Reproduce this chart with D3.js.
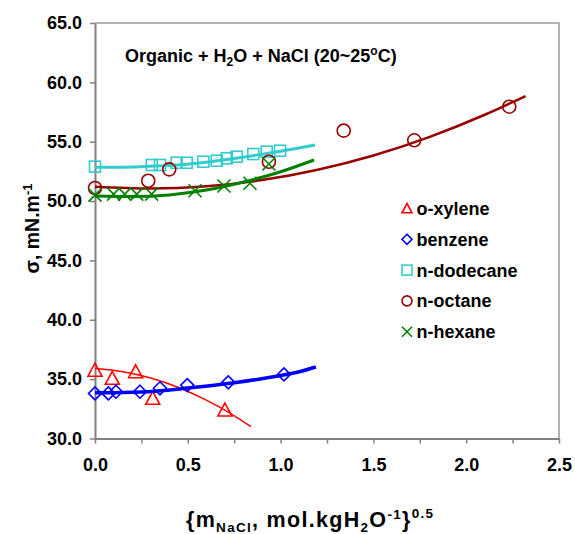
<!DOCTYPE html>
<html><head><meta charset="utf-8">
<script src="https://cdn.jsdelivr.net/npm/d3@7"></script>
<style>
html,body{margin:0;padding:0;background:#fff;}
svg text{font-family:"Liberation Sans",Arial,sans-serif;font-weight:bold;fill:#000;}
</style></head>
<body><svg id="chart" width="575" height="534"></svg>
<script>
// ---- data ----
const xTicks = [0, 0.25, 0.5, 0.75, 1.0, 1.25, 1.5, 1.75, 2.0, 2.25, 2.5];
const yTicks = [30, 35, 40, 45, 50, 55, 60, 65];

const xyleneX = [0.0, 0.093, 0.219, 0.311, 0.70];
const xyleneY = [35.75, 35.07, 35.62, 33.38, 32.40];
const benzeneX = [0.0, 0.072, 0.113, 0.242, 0.35, 0.497, 0.718, 1.018];
const benzeneY = [33.80, 33.80, 33.94, 33.94, 34.23, 34.50, 34.73, 35.40];
const dodecaneX = [0.0, 0.306, 0.35, 0.44, 0.494, 0.584, 0.656, 0.71, 0.763, 0.853, 0.925, 0.997];
const dodecaneY = [52.90, 53.04, 53.04, 53.23, 53.23, 53.32, 53.40, 53.60, 53.74, 53.96, 54.16, 54.24];
const octaneX = [0.0, 0.287, 0.40, 0.937, 1.34, 1.72, 2.232];
const octaneY = [51.10, 51.71, 52.67, 53.31, 55.93, 55.12, 57.95];
const hexaneX = [0.0, 0.10, 0.16, 0.225, 0.305, 0.539, 0.695, 0.835, 0.937];
const hexaneY = [50.50, 50.59, 50.59, 50.59, 50.59, 50.87, 51.27, 51.50, 53.12];

// trend curves
const xyleneFitX = [0, 0.15, 0.3, 0.45, 0.6, 0.72, 0.84];
const xyleneFitY = [35.90, 35.63, 35.10, 34.30, 33.23, 32.20, 31.00];
const benzeneFitX = [0, 0.25, 0.5, 0.75, 1.0, 1.1, 1.19];
const benzeneFitY = [33.85, 33.92, 34.25, 34.70, 35.30, 35.62, 36.02];
const dodecaneFitX = [0, 0.25, 0.46, 0.73, 1.0, 1.185];
const dodecaneFitY = [52.84, 52.90, 53.05, 53.55, 54.20, 54.72];
const octaneFitX = [0, 0.3, 0.6, 0.9, 1.2, 1.5, 1.8, 2.1, 2.32];
const octaneFitY = [51.20, 51.05, 51.24, 51.77, 52.64, 53.84, 55.39, 57.27, 58.85];
const hexaneFitX = [0, 0.2, 0.4, 0.6, 0.8, 1.0, 1.18];
const hexaneFitY = [50.43, 50.38, 50.52, 50.93, 51.60, 52.47, 53.46];

const seriesNames = ["o-xylene", "benzene", "n-dodecane", "n-octane", "n-hexane"];
const seriesColors = ["#ff0000", "#0000ff", "#33cccc", "#990000", "#008000"];
const markerTypes = ["triangle", "diamond", "square", "circle", "cross"];
const lineWidths = [1.5, 3.5, 3, 2.5, 3];

const svg = d3.select("#chart");
const x = d3.scaleLinear().domain([0, 2.5]).range([95, 559]);
const y = d3.scaleLinear().domain([30, 65]).range([438.5, 23]);

const axisColor = "#808080";

// plot box (top/right)
svg.append("path")
  .attr("d", `M${x(0)},${y(65)}H${x(2.5)}V${y(30)}`)
  .attr("fill", "none").attr("stroke", "#999").attr("stroke-width", 1.5);

// axes
const gx = svg.append("g").attr("transform", `translate(0,${y(30)})`)
  .call(d3.axisBottom(x).tickValues(xTicks).tickSize(5).tickSizeOuter(0)
    .tickFormat(d => (Math.round(d * 100) % 50 === 0) ? d.toFixed(1) : ""));
gx.select(".domain").attr("stroke", axisColor).attr("stroke-width", 2);
gx.selectAll(".tick line").attr("stroke", axisColor).attr("stroke-width", 1.5);
gx.selectAll(".tick text").attr("dy", null).attr("y", 32.5).style("font-size", "18px");

const gy = svg.append("g").attr("transform", `translate(${x(0)},0)`)
  .call(d3.axisLeft(y).tickValues(yTicks).tickSize(5).tickSizeOuter(0).tickPadding(8)
    .tickFormat(d3.format(".1f")));
gy.select(".domain").attr("stroke", axisColor).attr("stroke-width", 2);
gy.selectAll(".tick line").attr("stroke", axisColor).attr("stroke-width", 1.5);
gy.selectAll(".tick text").style("font-size", "18px");

// marker generator
function marker(sel, type, cx, cy, s, color) {
  const h = s / 2;
  let el;
  if (type === "circle") {
    el = sel.append("circle").attr("cx", cx).attr("cy", cy).attr("r", h);
  } else if (type === "square") {
    el = sel.append("rect").attr("x", cx - h).attr("y", cy - h).attr("width", s).attr("height", s);
  } else if (type === "diamond") {
    el = sel.append("path").attr("d", `M${cx},${cy - h}L${cx + h},${cy}L${cx},${cy + h}L${cx - h},${cy}Z`);
  } else if (type === "triangle") {
    el = sel.append("path").attr("d", `M${cx},${cy - h}L${cx + h},${cy + h * 0.85}L${cx - h},${cy + h * 0.85}Z`);
  } else {
    el = sel.append("path").attr("d", `M${cx - h},${cy - h}L${cx + h},${cy + h}M${cx + h},${cy - h}L${cx - h},${cy + h}`);
  }
  el.attr("fill", "none").attr("stroke", color).attr("stroke-width", 1.6);
}

const allX = [xyleneX, benzeneX, dodecaneX, octaneX, hexaneX];
const allY = [xyleneY, benzeneY, dodecaneY, octaneY, hexaneY];
const fitX = [xyleneFitX, benzeneFitX, dodecaneFitX, octaneFitX, hexaneFitX];
const fitY = [xyleneFitY, benzeneFitY, dodecaneFitY, octaneFitY, hexaneFitY];
const markerSizes = [14, 13, 11, 13, 13];

const line = d3.line().x(d => x(d[0])).y(d => y(d[1])).curve(d3.curveMonotoneX);

for (let i = 0; i < 5; i++) {
  const g = svg.append("g");
  const pts = allX[i].map((v, j) => [v, allY[i][j]]);
  pts.forEach(p => marker(g, markerTypes[i], x(p[0]), y(p[1]), markerSizes[i], seriesColors[i]));
  const fit = fitX[i].map((v, j) => [v, fitY[i][j]]);
  g.append("path").attr("d", line(fit)).attr("fill", "none")
    .attr("stroke", seriesColors[i]).attr("stroke-width", lineWidths[i]).attr("stroke-linecap", "butt");
}

// legend
const lg = svg.append("g");
seriesNames.forEach((n, i) => {
  const cy = 208.5 + i * 30.8;
  marker(lg, markerTypes[i], 407, cy, 10, seriesColors[i]);
  lg.append("text").attr("x", 416.5).attr("y", cy + 6.5).style("font-size", "18px").text(n);
});

// title
const t = svg.append("text").attr("x", 125).attr("y", 61.5).style("font-size", "18px");
t.append("tspan").text("Organic + H");
t.append("tspan").attr("dy", 4).style("font-size", "12px").text("2");
t.append("tspan").attr("dy", -4).text("O + NaCl (20~25");
t.append("tspan").attr("dy", -7).style("font-size", "12px").text("o");
t.append("tspan").attr("dy", 7).text("C)");

// x axis title
const xt = svg.append("text").attr("x", 186).attr("y", 526.5).style("font-size", "21.5px")
  .style("letter-spacing", "1.3px");
xt.append("tspan").text("{m");
xt.append("tspan").attr("dy", 5).style("font-size", "13.5px").text("NaCl");
xt.append("tspan").attr("dy", -5).text(", mol.kgH");
xt.append("tspan").attr("dy", 5).style("font-size", "13.5px").text("2");
xt.append("tspan").attr("dy", -5).text("O");
xt.append("tspan").attr("dy", -8).style("font-size", "13.5px").text("-1");
xt.append("tspan").attr("dy", 8).text("}");
xt.append("tspan").attr("dy", -9).style("font-size", "13.5px").text("0.5");

// y axis title
const yt = svg.append("text").attr("transform", "translate(39,228.5) rotate(-90)")
  .attr("text-anchor", "middle").style("font-size", "19.5px");
yt.append("tspan").text("σ, mN.m");
yt.append("tspan").attr("dy", -7.5).style("font-size", "13px").text("-1");
</script></body></html>
